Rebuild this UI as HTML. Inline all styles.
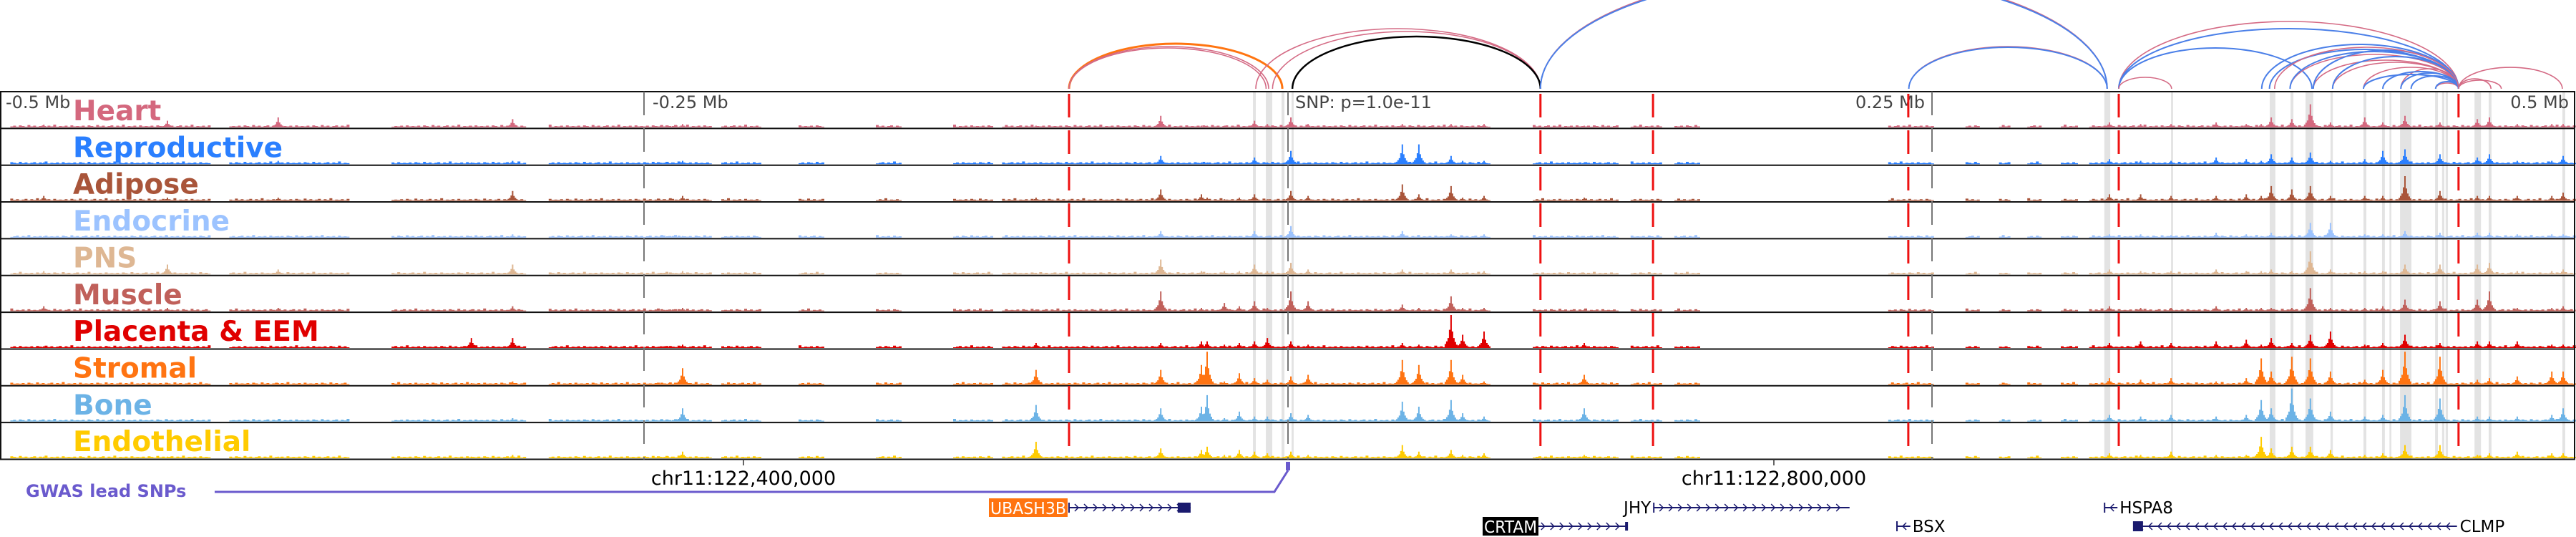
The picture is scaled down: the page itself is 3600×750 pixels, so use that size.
<!DOCTYPE html>
<html><head><meta charset="utf-8">
<style>
html,body{margin:0;padding:0;background:#fff;}
svg{display:block;}
text{font-family:"DejaVu Sans","Liberation Sans",sans-serif;}
</style></head>
<body>
<svg id="fig" width="3600" height="750" viewBox="0 0 3600 750" xmlns="http://www.w3.org/2000/svg">
<g id="bands"></g>
<g id="tracks"></g>
<g id="vlines"></g>
<g id="arcs"></g>
<g id="labels"></g>
<g id="genes"></g>
</svg>
<script>
// ---- data (kb relative to SNP) ----
const trackNames = ["Heart","Reproductive","Adipose","Endocrine","PNS","Muscle","Placenta & EEM","Stromal","Bone","Endothelial"];
const trackColors = ["#d4687e","#2a7fff","#a9553a","#9cc3ff","#deb793","#c0605a","#e00000","#ff7412","#6cb3e6","#ffcb00"];
const peakPos = [-483,-435,-392,-317,-301,-235,-97.8,-49.4,-33.6,-31.4,-24.7,-18.9,-13,-8,1.1,7.8,44.4,50.8,63.3,67.8,76.1,115,318.9,331,342.8,360.3,372,377.8,381.7,389.7,396.9,404.7,418,425,433.6,447.2,461.7,466.4,477.2,490.6,495];
const heartV    = [.08,.2,.3,.05,.25,.1,.05,.35,.05,.05,.05,.05,.2,.1,.3,.1,.1,.05,.1,.05,.1,.05,.15,.1,.1,.15,.1,.1,.3,.25,.7,.15,.3,.15,.35,.15,.25,.3,.1,.1,.1];
const reproV    = [.05,.05,.1,.05,.1,.1,.05,.25,.05,.05,.05,.05,.2,.05,.4,.05,.6,.6,.25,.1,.1,.05,.15,.1,.1,.2,.15,.1,.3,.2,.35,.1,.15,.4,.45,.3,.2,.3,.1,.1,.25];
const adiposeV  = [.15,.1,.1,.05,.3,.15,.1,.35,.2,.1,.05,.1,.2,.05,.3,.15,.5,.2,.45,.1,.15,.1,.2,.2,.15,.15,.2,.15,.45,.35,.45,.15,.15,.15,.75,.3,.15,.15,.15,.15,.25];
const endoV     = [.04,.05,.05,.05,.1,.05,.05,.2,.05,.05,.05,.05,.2,.05,.35,.05,.2,.05,.1,.05,.1,.05,.1,.1,.08,.15,.1,.05,.15,.1,.45,.45,.1,.1,.2,.15,.15,.15,.1,.1,.1];
const pnsV      = [.1,.3,.15,.05,.3,.1,.05,.45,.1,.05,.1,.1,.3,.1,.35,.15,.15,.05,.15,.05,.1,.05,.15,.1,.1,.15,.1,.1,.15,.1,.7,.15,.1,.1,.3,.3,.3,.35,.1,.1,.15];
const muscleV   = [.15,.1,.1,.05,.15,.1,.05,.6,.1,.05,.25,.15,.3,.1,.6,.3,.2,.1,.45,.1,.1,.05,.15,.1,.1,.15,.1,.1,.1,.1,.7,.1,.1,.15,.35,.3,.35,.6,.1,.1,.15];
const placentaV = [.05,.05,.05,.3,.3,.1,.15,.15,.2,.2,.1,.15,.2,.3,.2,.1,.15,.1,1.0,.4,.5,.15,.15,.2,.15,.2,.25,.1,.3,.15,.4,.5,.1,.15,.4,.15,.2,.2,.2,.1,.1];
const stromalV  = [.05,.05,.05,.05,.1,.5,.45,.45,.6,1.0,.1,.35,.2,.15,.25,.3,.75,.6,.75,.3,.1,.3,.2,.15,.2,.1,.2,.8,.4,.85,.8,.4,.15,.45,1.0,.85,.15,.2,.25,.4,.4];
const boneV     = [.05,.05,.05,.05,.1,.4,.5,.4,.45,.8,.1,.3,.15,.15,.25,.2,.6,.45,.65,.25,.15,.4,.2,.15,.2,.15,.2,.65,.4,1.0,.7,.3,.15,.2,.8,.7,.15,.15,.15,.2,.4];
const endotV    = [.05,.05,.05,.05,.1,.2,.5,.3,.25,.35,.1,.25,.2,.15,.2,.1,.4,.2,.25,.1,.15,.1,.15,.1,.2,.1,.1,.65,.3,.35,.35,.25,.1,.15,.4,.4,.1,.15,.2,.15,.15];
const trackValues = [heartV,reproV,adiposeV,endoV,pnsV,muscleV,placentaV,stromalV,boneV,endotV];
const coverStart = [-496,-411,-348,-287,-245,-220,-190,-160,-130,-111,95,133,150,233,263,276,287,300,311];
const coverEnd   = [-419,-365,-296,-224,-238,-205,-180,-150,-115,76,128,145,160,250,268,280,292,306,500];
const bgLevel = [0.03,0.05,0.02,0.06,0.04,0.02,0.07,0.03,0.05,0.01,0.04,0.06,0.02,0.05,0.03,0.08,0.02,0.04,0.03,0.05,0.01,0.06,0.03,0.04];
const bandStart = [-13.6,-8.6,-2.5,1.4,316.9,342.8,381.1,389.2,395,404.7,417.5,424.7,427.6,431.7,445.3,448,449.4,460.6,466.1,494.7];
const bandEnd   = [-12.5,-6.1,-1.4,2.2,319.2,343.6,383.3,390.3,398,405.6,418.6,425.8,428.3,436.1,446.4,448.9,450.3,463.1,467.2,495.8];
const redLines = [-85,98,141.7,240.8,322.5,454.4];
const tickKb = [-500,-250,250,500];
const tickLabels = ["-0.5 Mb","-0.25 Mb","0.25 Mb","0.5 Mb"];
const arcFrom  = [-85,-85,-85,-12.5,-6,1.7,98,98,241,241,322.5,322.5,322.5,322.5,389,398,405.5,417.5,432,445.5,454.4,454.4,454.4,381,389,398,405.5,417.5,425,432,436,445.5,378,383];
const arcTo    = [-2.2,-7.5,-8.5,98,98,98,318,318,318,318,454.4,454.4,397.5,343,454.4,454.4,454.4,454.4,454.4,454.4,494.7,467,471,454.4,454.4,454.4,454.4,454.4,454.4,454.4,454.4,454.4,454.4,454.4];
const arcScore = [63,59,57,84,80,73,162,160,59,58,94,84,57,16,48,40,37,30,28,8,30,14,12,55,52,54,45,20,24,22,18,10,62,58];
const arcType  = ["orange","pink","pink","pink","pink","black","pink","blue","pink","blue","pink","blue","blue","pink","pink","pink","pink","pink","pink","pink","pink","pink","pink","blue","blue","blue","blue","blue","blue","blue","blue","blue","blue","pink"];
const geneNames = ["UBASH3B","CRTAM","JHY","BSX","HSPA8","CLMP"];
const geneStart = [-85,78,142,236.4,317,328.3];
const geneEnd   = [-37.8,131.7,218,241.6,322,453.8];
const geneStrand = [1,1,1,-1,-1,-1];
const geneRow = [0,1,0,1,0,1];

// ---- scales ----
const X = kb => 1800 + kb*3.6;
const TOP = 128, TH = 51.35, NT = trackNames.length;
const trackTop = i => TOP + i*TH;
const H = v => v*46;
const NS = "http://www.w3.org/2000/svg";
function mk(tag, attrs, parent){const e=document.createElementNS(NS,tag);for(const k in attrs)e.setAttribute(k,attrs[k]);parent.appendChild(e);return e;}
const gB=document.getElementById('bands'),gT=document.getElementById('tracks'),gV=document.getElementById('vlines'),gA=document.getElementById('arcs'),gL=document.getElementById('labels'),gG=document.getElementById('genes');

// bands
bandStart.forEach((s,i)=>{
  const r=mk('rect',{x:X(s),y:TOP,width:Math.max(2,X(bandEnd[i])-X(s)),height:NT*TH,fill:'#e3e3e3'},gB);
  
  
});

// tracks
trackNames.forEach((name,t)=>{
  const g=mk('g',{},gT);
  
  
  const base=trackTop(t)+TH-1.5;
  let d='';
  let k=t*3;
  coverStart.forEach((s,i)=>{
    for(let x=X(s);x<X(coverEnd[i]);x+=4){
      const h=Math.max(1,H(bgLevel[k%bgLevel.length]));k++;
      d+=`M${x.toFixed(1)} ${base}h4v${-h}h-4z`;
    }
  });
  const vals=trackValues[t];
  peakPos.forEach((p,i)=>{
    const v=vals[i];const cx=X(p);
    const shape=[[-8,0.12],[-6,0.2],[-4,0.3],[-2,0.55],[0,1],[2,0.5],[4,0.3],[6,0.18],[8,0.1]];
    shape.forEach(([o,f])=>{d+=`M${(cx+o-1).toFixed(1)} ${base}h2v${-Math.max(1,H(v)*f)}h-2z`;});
  });
  mk('path',{d:d,fill:trackColors[t]},g);
  const ln=mk('line',{x1:0,x2:3598,y1:trackTop(t)+TH,y2:trackTop(t)+TH,stroke:'#111','stroke-width':2},g);
  
  
  const lb=mk('text',{x:102,y:trackTop(t)+40,'font-size':39,'font-weight':'bold',fill:trackColors[t]},gL);
  lb.textContent=name;
  
  
});
// frame
const fr=mk('rect',{x:1,y:TOP,width:3597,height:NT*TH,fill:'none',stroke:'#111','stroke-width':2},gV);



// ticks
tickKb.forEach((kb,i)=>{
  const x=X(kb);
  if(kb>-500&&kb<500){
    const l=mk('line',{x1:x,x2:x,y1:TOP,y2:TOP+NT*TH,stroke:'#777','stroke-width':2,'stroke-dasharray':'33 18'},gV);
    
    
  }
  let anchor='start',tx=x+12;
  if(kb===-500){tx=8;}
  if(kb===250){anchor='end';tx=x-10;}
  if(kb===500){anchor='end';tx=3590;}
  const t=mk('text',{x:tx,y:151,'font-size':24,fill:'#444','text-anchor':anchor},gV);
  t.textContent=tickLabels[i];
  
  
});
// SNP line
const sl=mk('line',{x1:X(0),x2:X(0),y1:TOP,y2:TOP+NT*TH,stroke:'#777','stroke-width':2,'stroke-dasharray':'33 18'},gV);


const st=mk('text',{x:X(0)+10,y:151,'font-size':24,fill:'#444'},gV);
st.textContent='SNP: p=1.0e-11';


// red lines
redLines.forEach(kb=>{
  const l=mk('line',{x1:X(kb),x2:X(kb),y1:TOP,y2:TOP+NT*TH,stroke:'#ee1111','stroke-width':3,'stroke-dasharray':'33 18','stroke-dashoffset':-3},gV);
  
  
});

// arcs
const arcCol={orange:'#ff7410',pink:'#d46a84',black:'#000',blue:'#4a7fe8'};
const arcW={orange:3,pink:1.6,black:2.5,blue:2};
arcFrom.forEach((a,i)=>{
  const x1=X(a),x2=X(arcTo[i]),rx=(x2-x1)/2,ry=arcScore[i];
  const p=mk('path',{d:`M${x1} 124 A${rx} ${ry} 0 0 1 ${x2} 124`,fill:'none',stroke:arcCol[arcType[i]],'stroke-width':arcW[arcType[i]]},gA);
  
  
});

// coordinates and gwas
[[1039,'chr11:122,400,000'],[2479,'chr11:122,800,000']].forEach(([x,s])=>{
  mk('line',{x1:x,x2:x,y1:641,y2:650,stroke:'#333','stroke-width':1.5},gG);
  const t=mk('text',{x:x,y:677,'font-size':27,'text-anchor':'middle',fill:'#000'},gG);
  t.textContent=s;
  
  
});
const gw=mk('text',{x:36,y:694,'font-size':24,'font-weight':'bold',fill:'#6a5acd'},gG);
gw.textContent='GWAS lead SNPs';


const gl=mk('path',{d:`M300 687 H${X(-5.3)} L${X(0)} 657`,fill:'none',stroke:'#6a5acd','stroke-width':3},gG);


const gm=mk('rect',{x:X(0)-3,y:645,width:6,height:12,fill:'#6a5acd'},gG);



// genes
geneNames.forEach((n,i)=>{
  const y=geneRow[i]?735:709;
  const x1=X(geneStart[i]),x2=X(geneEnd[i]);
  const g=mk('g',{},gG);
  
  
  mk('line',{x1:x1,x2:x2,y1:y,y2:y,stroke:'#1a1a6e','stroke-width':2},g);
  let d='';const s=geneStrand[i];
  for(let x=x1+8;x<x2-6;x+=13){d+= s>0?`M${x} ${y-5}l5 5l-5 5`:`M${x+5} ${y-5}l-5 5l5 5`;}
  mk('path',{d:d,fill:'none',stroke:'#1a1a6e','stroke-width':1.5},g);
  mk('line',{x1:x1,x2:x1,y1:y-7,y2:y+7,stroke:'#1a1a6e','stroke-width':2},g);
  if(n==='UBASH3B'){mk('rect',{x:x2-18,y:y-7,width:18,height:14,fill:'#1a1a6e'},g);
    mk('rect',{x:1382,y:y-13,width:110,height:26,fill:'#ff7410'},g);
    const t=mk('text',{x:1384,y:y+9,'font-size':23,fill:'#fff',textLength:106,lengthAdjust:'spacingAndGlyphs'},g);t.textContent=n;}
  else if(n==='CRTAM'){mk('rect',{x:x2-3,y:y-6,width:4,height:12,fill:'#1a1a6e'},g);
    mk('rect',{x:2072,y:y-13,width:78,height:26,fill:'#000'},g);
    const t=mk('text',{x:2074,y:y+9,'font-size':23,fill:'#fff',textLength:74,lengthAdjust:'spacingAndGlyphs'},g);t.textContent=n;}
  else if(n==='JHY'){const t=mk('text',{x:x1-4,y:y+8,'font-size':23,fill:'#000','text-anchor':'end'},g);t.textContent=n;}
  else if(n==='CLMP'){mk('rect',{x:x1,y:y-7,width:13,height:14,fill:'#1a1a6e'},g);
    const t=mk('text',{x:x2+4,y:y+8,'font-size':23,fill:'#000'},g);t.textContent=n;}
  else {const t=mk('text',{x:x2+3,y:y+8,'font-size':23,fill:'#000'},g);t.textContent=n;}
});
</script>
</body></html>
